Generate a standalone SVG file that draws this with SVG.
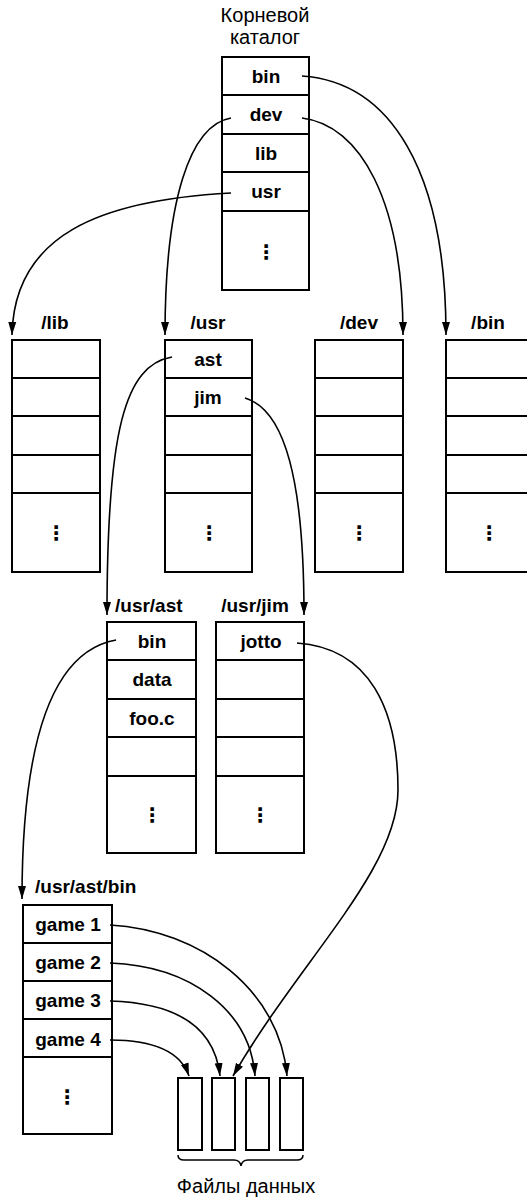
<svg xmlns="http://www.w3.org/2000/svg" width="527" height="1197" viewBox="0 0 527 1197">
<style>
  .box { fill: #fff; stroke: #000; stroke-width: 2; }
  .sep { stroke: #000; stroke-width: 2; }
  .lbl { font-family: "Liberation Sans", Arial, sans-serif; font-weight: bold; font-size: 19px; fill: #000; }
  .c { text-anchor: middle; }
  .ru { font-family: "Liberation Sans", Arial, sans-serif; font-size: 20px; fill: #000; text-anchor: middle; }
  .dots { font-family: "DejaVu Sans", sans-serif; font-weight: bold; font-size: 20px; fill: #000; text-anchor: middle; }
  .con { fill: none; stroke: #000; stroke-width: 1.6; marker-end: url(#ah); }
  .file { fill: #fff; stroke: #000; stroke-width: 2; }
</style>
<defs>
  <marker id="ah" markerUnits="userSpaceOnUse" markerWidth="14" markerHeight="10" refX="13" refY="5" orient="auto">
    <path d="M0,1 L13,5 L0,9 Z" fill="#000"/>
  </marker>
</defs>
<rect width="527" height="1197" fill="#fff"/>

<g id="root">
  <text class="ru" x="265" y="22">Корневой</text>
  <text class="ru" x="265" y="44">каталог</text>
  <rect class="box" x="222" y="57" width="87" height="233"/>
  <line class="sep" x1="222" y1="95" x2="309" y2="95"/>
  <line class="sep" x1="222" y1="134" x2="309" y2="134"/>
  <line class="sep" x1="222" y1="172" x2="309" y2="172"/>
  <line class="sep" x1="222" y1="211" x2="309" y2="211"/>
  <text class="lbl c" x="266" y="83">bin</text>
  <text class="lbl c" x="266" y="121">dev</text>
  <text class="lbl c" x="266" y="160">lib</text>
  <text class="lbl c" x="266" y="198">usr</text>
  <text class="dots" x="266" y="259">⋮</text>
</g>

<g id="dir-lib">
  <text class="lbl c" x="55" y="329">/lib</text>
  <rect class="box" x="12" y="340" width="88" height="232"/>
  <line class="sep" x1="12" y1="378" x2="100" y2="378"/>
  <line class="sep" x1="12" y1="416" x2="100" y2="416"/>
  <line class="sep" x1="12" y1="455" x2="100" y2="455"/>
  <line class="sep" x1="12" y1="493" x2="100" y2="493"/>
  <text class="dots" x="56" y="540">⋮</text>
</g>

<g id="dir-usr">
  <text class="lbl c" x="208" y="329">/usr</text>
  <rect class="box" x="165" y="340" width="87" height="232"/>
  <line class="sep" x1="165" y1="378" x2="252" y2="378"/>
  <line class="sep" x1="165" y1="416" x2="252" y2="416"/>
  <line class="sep" x1="165" y1="455" x2="252" y2="455"/>
  <line class="sep" x1="165" y1="493" x2="252" y2="493"/>
  <text class="lbl c" x="208" y="366">ast</text>
  <text class="lbl c" x="208" y="404">jim</text>
  <text class="dots" x="209" y="540">⋮</text>
</g>

<g id="dir-dev">
  <text class="lbl c" x="359" y="329">/dev</text>
  <rect class="box" x="315" y="340" width="88" height="232"/>
  <line class="sep" x1="315" y1="378" x2="403" y2="378"/>
  <line class="sep" x1="315" y1="416" x2="403" y2="416"/>
  <line class="sep" x1="315" y1="455" x2="403" y2="455"/>
  <line class="sep" x1="315" y1="493" x2="403" y2="493"/>
  <text class="dots" x="359" y="540">⋮</text>
</g>

<g id="dir-bin">
  <text class="lbl c" x="488" y="329">/bin</text>
  <rect class="box" x="446" y="340" width="88" height="232"/>
  <line class="sep" x1="446" y1="378" x2="534" y2="378"/>
  <line class="sep" x1="446" y1="416" x2="534" y2="416"/>
  <line class="sep" x1="446" y1="455" x2="534" y2="455"/>
  <line class="sep" x1="446" y1="493" x2="534" y2="493"/>
  <text class="dots" x="489" y="540">⋮</text>
</g>

<g id="dir-usr-ast">
  <text class="lbl" x="115" y="612">/usr/ast</text>
  <rect class="box" x="107" y="622" width="89" height="231"/>
  <line class="sep" x1="107" y1="660" x2="196" y2="660"/>
  <line class="sep" x1="107" y1="699" x2="196" y2="699"/>
  <line class="sep" x1="107" y1="737" x2="196" y2="737"/>
  <line class="sep" x1="107" y1="776" x2="196" y2="776"/>
  <text class="lbl c" x="152" y="648">bin</text>
  <text class="lbl c" x="152" y="686">data</text>
  <text class="lbl c" x="152" y="725">foo.c</text>
  <text class="dots" x="152" y="822">⋮</text>
</g>

<g id="dir-usr-jim">
  <text class="lbl c" x="255" y="612">/usr/jim</text>
  <rect class="box" x="216" y="622" width="88" height="231"/>
  <line class="sep" x1="216" y1="660" x2="304" y2="660"/>
  <line class="sep" x1="216" y1="699" x2="304" y2="699"/>
  <line class="sep" x1="216" y1="737" x2="304" y2="737"/>
  <line class="sep" x1="216" y1="776" x2="304" y2="776"/>
  <text class="lbl c" x="261" y="648">jotto</text>
  <text class="dots" x="260" y="822">⋮</text>
</g>

<g id="dir-usr-ast-bin">
  <text class="lbl" x="35" y="893">/usr/ast/bin</text>
  <rect class="box" x="23" y="905" width="89" height="229"/>
  <line class="sep" x1="23" y1="943" x2="112" y2="943"/>
  <line class="sep" x1="23" y1="981" x2="112" y2="981"/>
  <line class="sep" x1="23" y1="1019" x2="112" y2="1019"/>
  <line class="sep" x1="23" y1="1057" x2="112" y2="1057"/>
  <text class="lbl c" x="68" y="931">game 1</text>
  <text class="lbl c" x="68" y="969">game 2</text>
  <text class="lbl c" x="68" y="1007">game 3</text>
  <text class="lbl c" x="68" y="1046">game 4</text>
  <text class="dots" x="67" y="1104">⋮</text>
</g>

<g id="data-files">
  <rect class="file" x="178" y="1078" width="24" height="72"/>
  <rect class="file" x="212" y="1078" width="23" height="72"/>
  <rect class="file" x="246" y="1078" width="23" height="72"/>
  <rect class="file" x="280" y="1078" width="23" height="72"/>
  <path d="M178,1155 Q178,1160 184,1160 L234,1160 Q240,1160 241,1166 Q242,1160 248,1160 L297,1160 Q303,1160 303,1155" fill="none" stroke="#000" stroke-width="1.5"/>
  <text class="ru" x="246" y="1193">Файлы данных</text>
</g>

<g id="connectors">
  <path class="con" d="M302,76 C390,82 446,170 446,335"/>
  <path class="con" d="M302,118 C360,125 403,200 403,335"/>
  <path class="con" d="M231,118 C190,125 165,200 165,335"/>
  <path class="con" d="M231,193 C100,200 14,235 12,335"/>
  <path class="con" d="M172,357 C125,365 107,430 107,615"/>
  <path class="con" d="M245,398 C285,410 304,480 304,615"/>
  <path class="con" d="M116,640 C60,650 22,720 22,899"/>
  <path class="con" d="M297,643 C370,648 398,710 398,790 C398,870 300,960 233,1076"/>
  <path class="con" d="M110,925 C200,930 280,990 287,1076"/>
  <path class="con" d="M110,963 C190,966 250,1010 255,1076"/>
  <path class="con" d="M110,1001 C180,1003 215,1030 220,1076"/>
  <path class="con" d="M110,1040 C150,1040 180,1050 189,1076"/>
</g>
</svg>
